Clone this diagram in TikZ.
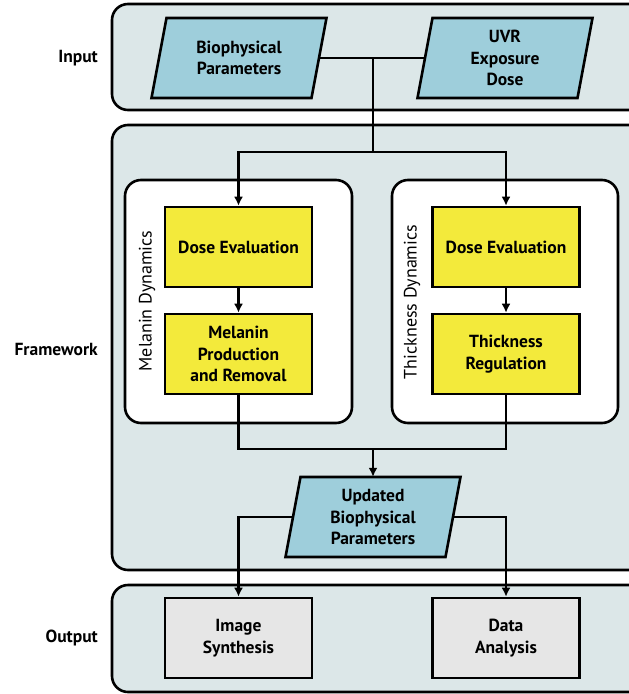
\documentclass[tikz,border=0pt]{standalone}
\usepackage{fontspec}
\setmainfont{PT Sans}
\usetikzlibrary{arrows.meta,calc,positioning}
\definecolor{panelfill}{HTML}{DCE7E8}
\definecolor{parafill}{HTML}{9ECEDB}
\definecolor{yel}{HTML}{F3EA3B}
\definecolor{outgray}{HTML}{E6E6E6}
\tikzset{
  panel/.style={draw=black, line width=2.6pt, fill=panelfill, rounded corners=16pt},
  inner panel/.style={draw=black, line width=2.6pt, fill=white, rounded corners=16pt},
  paraframe/.style={draw=black, line width=2.6pt, fill=parafill, line join=miter},
  paratext/.style={draw=none, minimum width=160pt, minimum height=80pt, align=center,
    font=\fontsize{17.5}{21.7}\selectfont\bfseries, inner sep=0pt},
  yelbox/.style={draw=black, line width=2.6pt, fill=yel, minimum width=147pt, minimum height=80pt,
    align=center, font=\fontsize{17.5}{21.7}\selectfont\bfseries, inner sep=0pt},
  outbox/.style={draw=black, line width=2.6pt, fill=outgray, minimum width=147pt, minimum height=80pt,
    align=center, font=\fontsize{17.5}{21.7}\selectfont\bfseries, inner sep=0pt},
  sidelabel/.style={anchor=east, font=\fontsize{17.5}{21.7}\selectfont\bfseries, inner sep=0pt},
  rotlabel/.style={rotate=90, font=\fontsize{18}{21.7}\selectfont, inner sep=0pt},
  conn/.style={draw=black, line width=2.6pt},
  arr/.style={conn, -{Latex[length=9pt,width=9pt]}},
}
\begin{document}
\begin{tikzpicture}[x=1pt,y=-1pt]
\clip (0,0) rectangle (629,694);
% panels
\draw[panel] (112,4) rectangle (646,110);
\draw[panel] (112,125) rectangle (646,570);
\draw[panel] (112,585) rectangle (646,692);
\draw[inner panel] (125,180) rectangle (352,423);
\draw[inner panel] (392,180) rectangle (618,423);
% side labels
\node[sidelabel] (lin) at (98,58) {Input};
\node[sidelabel] (lfw) at (98,349) {Framework};
\node[sidelabel] (lout) at (98,638) {Output};
\node[rotlabel] (lmel) at (147,301) {Melanin Dynamics};
\node[rotlabel] (lthk) at (412,302) {Thickness Dynamics};
% parallelograms
\draw[paraframe] (239-80+7.5,18) -- (239+80+7.5,18) -- (239+80-7.5,98) -- (239-80-7.5,98) -- cycle;
\node[paratext] (bp) at (239,58) {Biophysical\\Parameters};
\draw[paraframe] (505-80+7.5,18) -- (505+80+7.5,18) -- (505+80-7.5,98) -- (505-80-7.5,98) -- cycle;
\node[paratext] (uvr) at (505,58) {UVR\\Exposure\\Dose};
\draw[paraframe] (373-80+7.5,477) -- (373+80+7.5,477) -- (373+80-7.5,557) -- (373-80-7.5,557) -- cycle;
\node[paratext] (ubp) at (373,517) {Updated\\Biophysical\\Parameters};
% yellow boxes
\node[yelbox] (de1) at (238.5,247) {Dose Evaluation};
\node[yelbox] (mp) at (238.5,354) {Melanin\\Production\\and Removal};
\node[yelbox] (de2) at (506,247) {Dose Evaluation};
\node[yelbox] (tr) at (506,354) {Thickness\\Regulation};
% output boxes
\node[outbox] (is) at (238.5,638) {Image\\Synthesis};
\node[outbox] (da) at (506,638) {Data\\Analysis};
% connectors
\coordinate (j1) at (373,58);
\coordinate (j2) at (373,152);
\coordinate (j3) at (373,449);
\draw[conn] (bp.east) -- (uvr.west);
\draw[conn] (j1) -- (j2);
\draw[arr] (j2) -| (de1.north);
\draw[arr] (j2) -| (de2.north);
\draw[arr] (de1.south) -- (mp.north);
\draw[arr] (de2.south) -- (tr.north);
\draw[conn] (mp.south) |- (j3);
\draw[conn] (tr.south) |- (j3);
\draw[arr] (j3) -- (ubp.north);
\draw[arr] (ubp.west) -| (is.north);
\draw[arr] (ubp.east) -| (da.north);
\end{tikzpicture}
\end{document}
